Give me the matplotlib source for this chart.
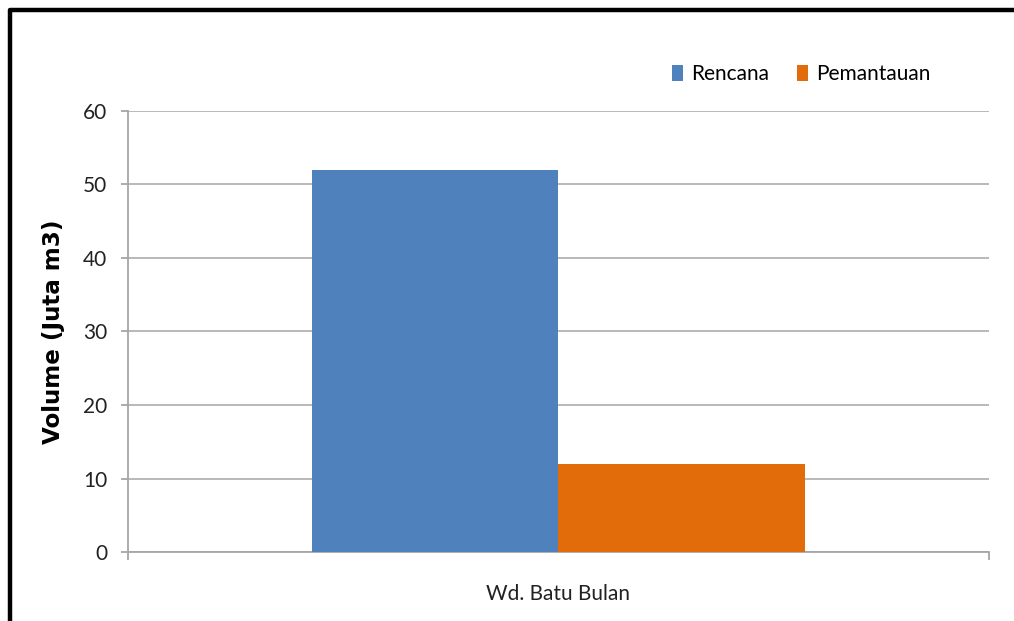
import matplotlib.pyplot as plt
from matplotlib.lines import Line2D

# data
category = ["Wd. Batu Bulan"]
series_names = ["Rencana", "Pemantauan"]
rencana = [52]
pemantauan = [12]
colors = ["#4F81BD", "#E36C0A"]

plt.rcParams["font.family"] = ["Lato", "DejaVu Sans"]
plt.rcParams["font.size"] = 15

fig = plt.figure(figsize=(10.14, 6.21), dpi=100)
ax = fig.add_axes([0.1262, 0.1111, 0.9753 - 0.1262, 0.8213 - 0.1111])

width = 0.286
x = range(len(category))
ax.bar([i - width / 2 for i in x], rencana, width, color=colors[0], label=series_names[0], zorder=3)
ax.bar([i + width / 2 for i in x], pemantauan, width, color=colors[1], label=series_names[1], zorder=3)

ax.set_xlim(-0.5, 0.5)
ax.set_ylim(0, 60)
ax.set_yticks(range(0, 61, 10))
ax.grid(axis="y", color="#b3b3b3", linewidth=1.3, zorder=0)

# boundary ticks on x, category label as a minor tick
ax.set_xticks([-0.5, 0.5])
ax.set_xticklabels(["", ""])
ax.set_xticks([0], minor=True)
ax.set_xticklabels(category, minor=True)
ax.tick_params(axis="x", which="major", length=6, color="#a6a6a6", width=1.3)
ax.tick_params(axis="x", which="minor", length=0, pad=23, labelcolor="#222222")
ax.tick_params(axis="y", length=5, color="#a6a6a6", width=1.3, pad=10, labelcolor="#222222")

for s in ["top", "right"]:
    ax.spines[s].set_visible(False)
for s in ["left", "bottom"]:
    ax.spines[s].set_color("#a6a6a6")
    ax.spines[s].set_linewidth(1.3)

ax.set_ylabel("Volume (Juta m3)", family="DejaVu Sans", fontweight="bold", fontsize=16.6)
ax.yaxis.set_label_coords(-0.073, 0.5)

ax.legend(loc="center right", bbox_to_anchor=(0.918, 0.881), bbox_transform=fig.transFigure,
          ncol=2, frameon=False, handlelength=0.55, handleheight=0.8, handletextpad=0.4,
          columnspacing=1.3, fontsize=15, borderpad=0, borderaxespad=0)

# black frame (left and top edges visible in the reference)
fig.add_artist(Line2D([0.0099, 0.0099, 1.05], [-0.1, 0.9839, 0.9839], color="black",
                      linewidth=3.2, transform=fig.transFigure))

fig.savefig("out.png", dpi=100)
